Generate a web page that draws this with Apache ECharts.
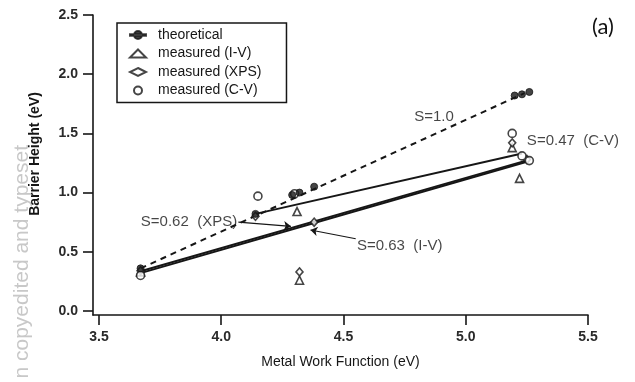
<!DOCTYPE html>
<html>
<head>
<meta charset="utf-8">
<script src="https://cdn.jsdelivr.net/npm/echarts@6/dist/echarts.min.js"></script>
<style>html,body{margin:0;padding:0;background:#fff}#c{width:635px;height:382px}</style>
</head>
<body>
<div id="c"></div>
<script>
// ---- data ----
const xTicks = [3.5, 4.0, 4.5, 5.0, 5.5];
const yTicks = [0.0, 0.5, 1.0, 1.5, 2.0, 2.5];

const theoX = [3.67, 4.14, 4.29, 4.32, 4.38, 5.20, 5.23, 5.26];
const theoY = [0.36, 0.82, 0.98, 1.00, 1.05, 1.82, 1.83, 1.85];

const ivX = [3.67, 4.31, 4.32, 5.19, 5.22];
const ivY = [0.33, 0.84, 0.26, 1.38, 1.12];

const xpsX = [3.67, 4.14, 4.32, 4.38, 5.19, 5.25];
const xpsY = [0.34, 0.80, 0.33, 0.75, 1.42, 1.28];

const cvX = [3.67, 4.15, 4.30, 5.19, 5.23, 5.26];
const cvY = [0.30, 0.97, 0.99, 1.50, 1.31, 1.27];

// fitted lines
const fitS10X = [3.67, 5.24];   const fitS10Y = [0.36, 1.84];
const fitCVX = [4.14, 5.23];    const fitCVY = [0.82, 1.33];
const fitIVX = [3.67, 5.25];    const fitIVY = [0.32, 1.26];
const fitXPSX = [3.67, 5.25];   const fitXPSY = [0.335, 1.272];

// annotations
const annoText = ['S=1.0', 'S=0.47  (C-V)', 'S=0.62  (XPS)', 'S=0.63  (I-V)'];
const annoX = [4.87, 5.25, 4.065, 4.555];
const annoY = [1.64, 1.435, 0.75, 0.55];
const annoPos = ['inside', 'right', 'left', 'right'];
const arrowFrom = [[4.07, 0.75], [4.55, 0.61]];
const arrowTo = [[4.285, 0.715], [4.365, 0.684]];

const zip = (a, b) => a.map((v, i) => [v, b[i]]);

const FONT = 'Liberation Sans';
const INK = '#161616';

const chart = echarts.init(document.getElementById('c'), null, {renderer: 'canvas'});

const lineSeries = (x, y, style) => ({
  type: 'line', data: zip(x, y), symbol: 'none', silent: true,
  lineStyle: style, z: 3
});

const option = {
  backgroundColor: '#fff',
  animation: false,
  grid: {left: 93, right: 47, top: 15, bottom: 67, containLabel: false},
  xAxis: {
    type: 'value', min: 3.4755, max: 5.5,
    name: 'Metal Work Function (eV)', nameLocation: 'middle', nameGap: 40,
    nameTextStyle: {fontFamily: FONT, fontSize: 14, color: INK},
    axisLine: {show: true, onZero: false, lineStyle: {color: INK, width: 1.6}},
    axisTick: {show: true, inside: false, length: 10, customValues: xTicks, lineStyle: {color: INK, width: 1.6}},
    axisLabel: {customValues: xTicks, margin: 15, formatter: v => v.toFixed(1),
      fontFamily: FONT, fontSize: 14, fontWeight: 'bold', color: '#2a2a2a'},
    splitLine: {show: false}
  },
  yAxis: {
    type: 'value', min: -0.034, max: 2.5,
    name: 'Barrier Height (eV)', nameLocation: 'middle', nameGap: 51,
    nameTextStyle: {fontFamily: FONT, fontSize: 14, fontWeight: 'bold', color: INK, padding: [0, 0, 0, 22]},
    axisLine: {show: true, onZero: false, lineStyle: {color: INK, width: 1.6}},
    axisTick: {show: true, inside: false, length: 10, customValues: yTicks, lineStyle: {color: INK, width: 1.6}},
    axisLabel: {customValues: yTicks, margin: 15, formatter: v => v.toFixed(1),
      fontFamily: FONT, fontSize: 14, fontWeight: 'bold', color: '#2a2a2a'},
    splitLine: {show: false}
  },
  legend: {
    orient: 'vertical', left: 117, top: 23,
    padding: [5, 25, 5, 12],
    borderColor: INK, borderWidth: 1.5,
    itemWidth: 16, itemHeight: 8, itemGap: 4.5,
    textStyle: {fontFamily: FONT, fontSize: 14, color: INK, lineHeight: 14, padding: [0, 0, 0, 7]},
    data: [
      {name: 'theoretical', icon: 'path://M0,3.3H16V4.7H0Z M4,4A4,4,0,1,0,12,4A4,4,0,1,0,4,4Z'},
      {name: 'measured (I-V)'},
      {name: 'measured (XPS)'},
      {name: 'measured (C-V)'}
    ]
  },
  series: [
    lineSeries(fitS10X, fitS10Y, {color: INK, width: 2, type: [6, 5]}),
    lineSeries(fitCVX, fitCVY, {color: INK, width: 2}),
    lineSeries(fitIVX, fitIVY, {color: INK, width: 2}),
    lineSeries(fitXPSX, fitXPSY, {color: INK, width: 2}),
    {
      name: 'theoretical', type: 'scatter', data: zip(theoX, theoY),
      symbol: 'circle', symbolSize: 7, z: 6,
      itemStyle: {color: INK, borderColor: INK, borderWidth: 1}
    },
    {
      name: 'measured (I-V)', type: 'scatter', data: zip(ivX, ivY),
      symbol: 'triangle', symbolSize: 8, z: 5,
      itemStyle: {color: '#fff', borderColor: INK, borderWidth: 1.6}
    },
    {
      name: 'measured (XPS)', type: 'scatter', data: zip(xpsX, xpsY),
      symbol: 'diamond', symbolSize: [7, 8], z: 5,
      itemStyle: {color: '#fff', borderColor: INK, borderWidth: 1.6}
    },
    {
      name: 'measured (C-V)', type: 'scatter', data: zip(cvX, cvY),
      symbol: 'circle', symbolSize: 8, z: 5,
      itemStyle: {color: '#fff', borderColor: INK, borderWidth: 1.6}
    },
    {
      type: 'scatter', silent: true, symbolSize: 0, z: 8,
      data: annoText.map((t, i) => ({
        value: [annoX[i], annoY[i]],
        label: {show: true, position: annoPos[i], distance: 0, formatter: t,
          fontFamily: FONT, fontSize: 15, color: INK}
      }))
    },
    {
      type: 'lines', coordinateSystem: 'cartesian2d', silent: true, z: 7,
      symbol: ['none', 'arrow'], symbolSize: 7,
      lineStyle: {color: INK, width: 1.2, opacity: 1},
      data: arrowFrom.map((f, i) => ({coords: [f, arrowTo[i]]}))
    }
  ],
  graphic: [
    {type: 'text', x: 603, y: 27, style: {text: '(a)', font: '22px Lato', fill: '#111', textAlign: 'center', textVerticalAlign: 'middle'}},
    {type: 'text', x: 22, y: 145, rotation: Math.PI / 2, z: -1,
      style: {text: 'n copyedited and typeset', font: '21px "Liberation Sans"', fill: '#c8c8c8', textAlign: 'right', textVerticalAlign: 'middle'}}
  ]
};
chart.setOption(option);
</script>
</body>
</html>
